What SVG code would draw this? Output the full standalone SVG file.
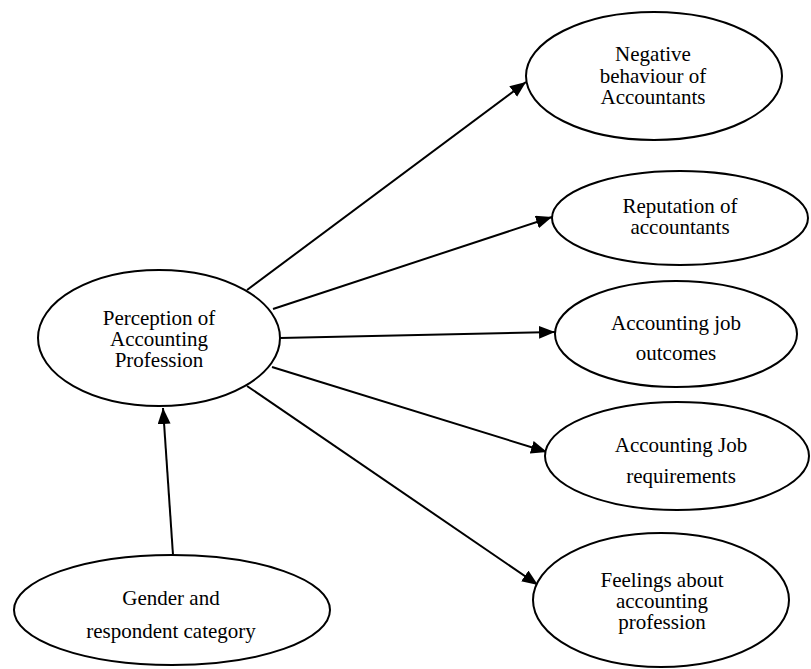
<svg xmlns="http://www.w3.org/2000/svg" width="811" height="669" viewBox="0 0 811 669">
<defs>
<style>
.node ellipse{fill:#fff;stroke:#000;stroke-width:2}
.node text{font-family:"Liberation Serif","Times New Roman",serif;font-size:21px;fill:#000;text-anchor:middle}
.edge{stroke:#000;stroke-width:2;fill:none;marker-end:url(#arrow)}
</style>
<marker id="arrow" markerUnits="userSpaceOnUse" markerWidth="18" markerHeight="14" refX="16" refY="6.5" orient="auto">
<path d="M0,0 L16,6.5 L0,13 z" fill="#000"/>
</marker>
</defs>
<rect width="811" height="669" fill="#fff"/>
<g id="connectors">
<line class="edge" x1="247" y1="290" x2="526" y2="82"/>
<line class="edge" x1="273" y1="309" x2="552" y2="217"/>
<line class="edge" x1="280" y1="338" x2="555" y2="332"/>
<line class="edge" x1="272" y1="367" x2="547" y2="452"/>
<line class="edge" x1="247" y1="386" x2="538" y2="585"/>
<line class="edge" x1="173" y1="555" x2="163" y2="408"/>
</g>
<g id="negative" class="node">
<ellipse cx="654" cy="76" rx="128" ry="64"/>
<text x="653" y="61">Negative</text>
<text x="653" y="83">behaviour of</text>
<text x="653" y="104">Accountants</text>
</g>
<g id="reputation" class="node">
<ellipse cx="680" cy="218" rx="128" ry="47"/>
<text x="680" y="213">Reputation of</text>
<text x="680" y="234">accountants</text>
</g>
<g id="outcomes" class="node">
<ellipse cx="676" cy="334" rx="121" ry="53"/>
<text x="676" y="330">Accounting job</text>
<text x="676" y="360">outcomes</text>
</g>
<g id="requirements" class="node">
<ellipse cx="677" cy="456" rx="132" ry="54"/>
<text x="681" y="452">Accounting Job</text>
<text x="681" y="483">requirements</text>
</g>
<g id="feelings" class="node">
<ellipse cx="661" cy="600" rx="128" ry="67"/>
<text x="662" y="587">Feelings about</text>
<text x="662" y="608">accounting</text>
<text x="662" y="629">profession</text>
</g>
<g id="perception" class="node">
<ellipse cx="159" cy="338" rx="121" ry="68"/>
<text x="159" y="325">Perception of</text>
<text x="159" y="346">Accounting</text>
<text x="159" y="367">Profession</text>
</g>
<g id="gender" class="node">
<ellipse cx="172" cy="610" rx="158" ry="55"/>
<text x="171" y="605">Gender and</text>
<text x="171" y="638">respondent category</text>
</g>
</svg>
